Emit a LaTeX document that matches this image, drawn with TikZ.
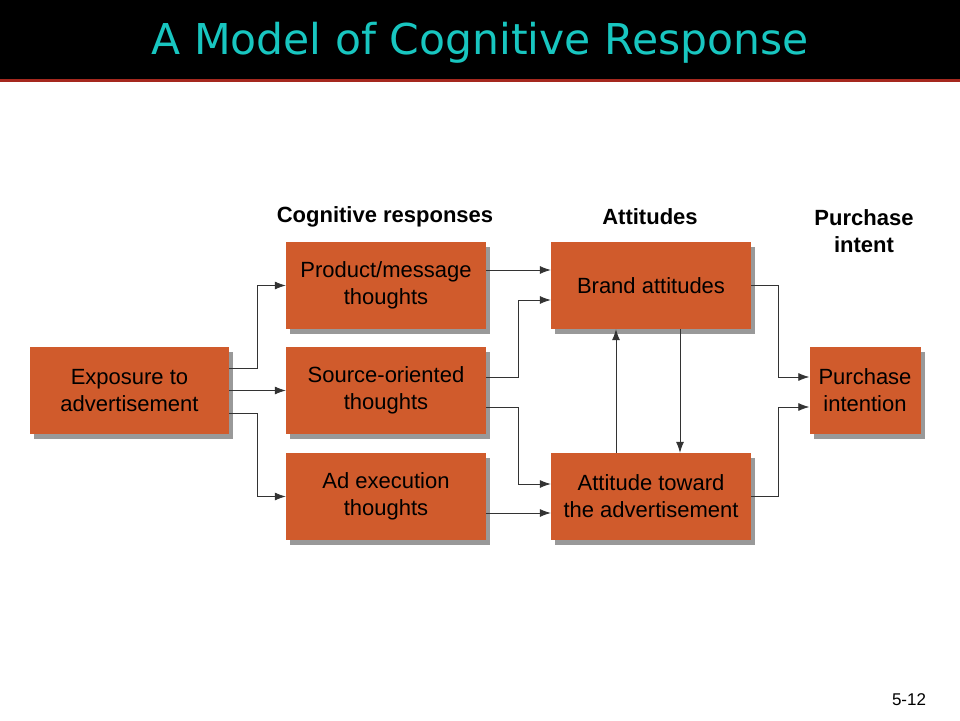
\documentclass[tikz,border=0pt]{standalone}
\usepackage{fontspec}
\setmainfont{Liberation Sans}
\newfontfamily\titlefont{DejaVu Sans}
\usetikzlibrary{arrows.meta,shadows}
\definecolor{boxorange}{RGB}{208,91,44}
\definecolor{titlecyan}{RGB}{24,198,192}
\definecolor{barred}{RGB}{165,40,30}
\begin{document}
\begin{tikzpicture}[x=1pt,y=-1pt,
		stage/.style={rectangle, fill=boxorange, draw=none, text=black, align=center, minimum height=87pt, inner sep=2pt, font=\fontsize{22}{27}\selectfont, drop shadow={shadow xshift=4pt, shadow yshift=-5pt, opacity=0.5, fill=black!80}},
		header/.style={align=center, font=\fontsize{22}{27}\selectfont\bfseries},
		link/.style={draw=black!80, line width=0.8pt, -{Latex[length=11pt,width=8pt]}}]
			\useasboundingbox (0,0) rectangle (960,720);
			\fill[black] (0,0) rectangle (960,80);
			\fill[barred] (0,79) rectangle (960,82);
			\node[text=titlecyan, font=\titlefont\fontsize{42.5}{46}\selectfont] (title) at (480,43) {A Model of Cognitive Response};
			\node[stage, minimum width=199pt] (expo) at (129.5,390.5) {Exposure to\\advertisement};
			\node[stage, minimum width=200pt] (prod) at (386,285.5) {Product/message\\thoughts};
			\node[stage, minimum width=200pt] (src) at (386,390.5) {Source-oriented\\thoughts};
			\node[stage, minimum width=200pt] (adex) at (386,496.5) {Ad execution\\thoughts};
			\node[stage, minimum width=200pt] (brand) at (651,285.5) {Brand attitudes};
			\node[stage, minimum width=200pt] (attad) at (651,496.5) {Attitude toward\\the advertisement};
			\node[stage, minimum width=111pt] (purch) at (865,390.5) {Purchase\\intention};
			\node[header] (hcog) at (385,217) {Cognitive responses};
			\node[header] (hatt) at (650,217) {Attitudes};
			\node[header] (hpur) at (864,231) {Purchase\\intent};
			\node[font=\fontsize{17}{19}\selectfont] (pgnum) at (909,700) {5-12};
			\draw[link] ([yshift=22.5pt]expo.east) -- ++(28,0) |- (prod.west);
			\draw[link] (expo.east) -- (src.west);
			\draw[link] ([yshift=-22.5pt]expo.east) -- ++(28,0) |- (adex.west);
			\draw[link] ([yshift=15.5pt]prod.east) -- ([yshift=15.5pt]brand.west);
			\draw[link] ([yshift=13.5pt]src.east) -- ++(32,0) |- ([yshift=-14.5pt]brand.west);
			\draw[link] ([yshift=-16.5pt]src.east) -- ++(32,0) |- ([yshift=12.5pt]attad.west);
			\draw[link] ([yshift=-16.5pt]adex.east) -- ([yshift=-16.5pt]attad.west);
			\draw[link] (brand.east) -- ++(27,0) |- ([yshift=13.5pt]purch.west);
			\draw[link] (attad.east) -- ++(27,0) |- ([yshift=-16.5pt]purch.west);
			\draw[link] ([xshift=-35pt]attad.north) -- ([xshift=-35pt]brand.south);
			\draw[link] ([xshift=29pt]brand.south) -- ([xshift=29pt]attad.north);
		\end{tikzpicture}
\end{document}
